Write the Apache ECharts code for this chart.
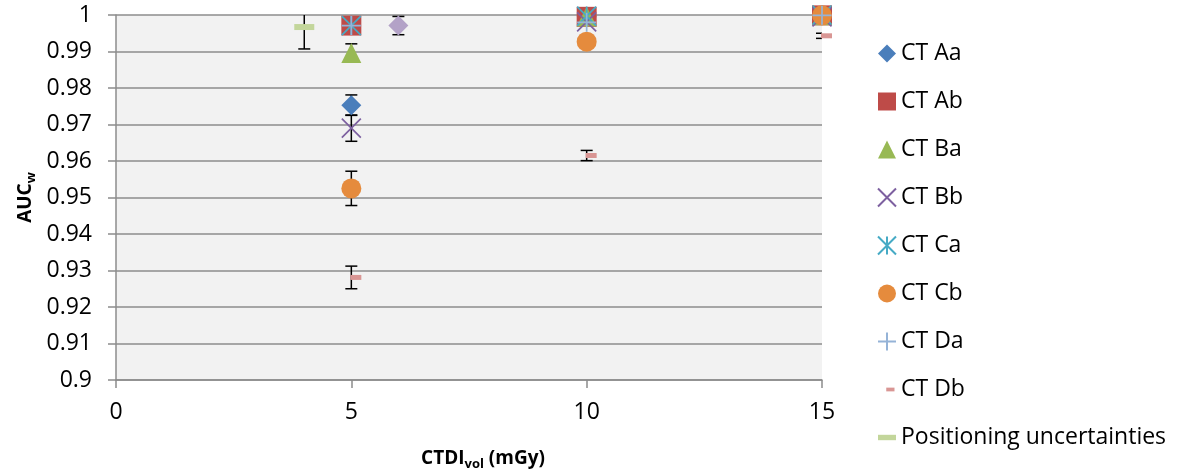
<!DOCTYPE html>
<html>
<head>
<meta charset="utf-8">
<script src="https://cdn.jsdelivr.net/npm/echarts@6/dist/echarts.min.js"></script>
<style>
  html, body { margin: 0; padding: 0; background: #fff; }
  #chart { width: 1181px; height: 475px; }
</style>
</head>
<body>
<div id="chart"></div>
<script>
// CTDIvol (mGy) on x, AUCw on y, err = half length of the error bar
const doses = [5, 10, 15];

const aaAuc = [0.9753, 0.9995, 0.9999];
const aaErr = [0.0028, 0.0004, 0.0002];

const abAuc = [0.9971, 0.9995, 0.9999];
const abErr = [0.0008, 0.0004, 0.0001];

const baAuc = [0.9896, 0.9996, 0.9999];
const baErr = [0.0025, 0.0003, 0.0001];

const bbAuc = [0.9690, 0.9981, 0.9995];
const bbErr = [0.0036, 0.0008, 0.0003];

const caAuc = [0.9971, 0.9997, 1.0];
const caErr = [0.0008, 0.0003, 0.0001];

const cbAuc = [0.9525, 0.9927, 0.9999];
const cbErr = [0.0047, 0.0008, 0.0001];

const daAuc = [0.9971, 0.9980, 0.9999];
const daErr = [0.0008, 0.0006, 0.0002];

const dbAuc = [0.9281, 0.9615, 0.9943];
const dbErr = [0.0031, 0.0014, 0.0007];

const posDose = [4];
const posAuc = [0.9967];
const posErr = [0.0060];

// extra point drawn in the plot but not listed in the legend
const extraDose = [6];
const extraAuc = [0.9971];
const extraErr = [0.0025];

const legendNames = ['CT Aa', 'CT Ab', 'CT Ba', 'CT Bb', 'CT Ca', 'CT Cb', 'CT Da', 'CT Db', 'Positioning uncertainties'];

const FONT = 'Open Sans';

const xPath = 'path://M0,0L20,20M20,0L0,20';
const starPath = 'path://M0,0L20,20M20,0L0,20M10,0L10,20';
const plusPath = 'path://M10,0L10,20M0,10L20,10';
const dbPath = 'path://M-2,0M22,20M9,7.5h11v5h-11z';
const posPath = 'path://M0,0M20,20M0,7h20v6h-20z';

function scatter(name, xs, ys, symbol, size, color, stroke) {
  return {
    name: name,
    type: 'scatter',
    z: 3,
    symbol: symbol,
    symbolSize: size,
    data: xs.map((x, i) => [x, ys[i]]),
    itemStyle: stroke
      ? { color: 'rgba(0,0,0,0)', borderColor: color, borderWidth: 1.7, opacity: 1 }
      : { color: color, opacity: 1 },
    emphasis: { disabled: true }
  };
}

function errorBars(xs, ys, es) {
  return {
    type: 'custom',
    z: 2,
    clip: true,
    silent: true,
    data: xs.map((x, i) => [x, ys[i], es[i]]),
    encode: { x: 0, y: 1 },
    renderItem: function (params, api) {
      const x = api.value(0), y = api.value(1), e = api.value(2);
      const top = api.coord([x, y + e]);
      const bot = api.coord([x, y - e]);
      const w = 6;
      const style = { stroke: '#000', lineWidth: 1.5 };
      return {
        type: 'group',
        children: [
          { type: 'line', shape: { x1: top[0], y1: top[1], x2: bot[0], y2: bot[1] }, style: style },
          { type: 'line', shape: { x1: top[0] - w, y1: top[1], x2: top[0] + w, y2: top[1] }, style: style },
          { type: 'line', shape: { x1: bot[0] - w, y1: bot[1], x2: bot[0] + w, y2: bot[1] }, style: style }
        ]
      };
    }
  };
}

const series = [
  scatter('CT Aa', doses, aaAuc, 'diamond', 20, '#4a7ebb'),
  errorBars(doses, aaAuc, aaErr),
  scatter('CT Ab', doses, abAuc, 'rect', 20, '#be4b48'),
  errorBars(doses, abAuc, abErr),
  scatter('CT Ba', doses, baAuc, 'triangle', 20, '#98b954'),
  errorBars(doses, baAuc, baErr),
  scatter('CT Bb', doses, bbAuc, xPath, 19, '#7d60a0', true),
  errorBars(doses, bbAuc, bbErr),
  scatter('CT Ca', doses, caAuc, starPath, 19, '#46aac5', true),
  errorBars(doses, caAuc, caErr),
  scatter('CT Cb', doses, cbAuc, 'circle', 20, '#e58b3d'),
  errorBars(doses, cbAuc, cbErr),
  scatter('CT Da', doses, daAuc, plusPath, 19, '#95b3d7', true),
  errorBars(doses, daAuc, daErr),
  scatter('CT Db', doses, dbAuc, dbPath, [24, 20], '#d99694'),
  errorBars(doses, dbAuc, dbErr),
  scatter('Positioning uncertainties', posDose, posAuc, posPath, 20, '#c3d69b'),
  errorBars(posDose, posAuc, posErr),
  scatter('Series10', extraDose, extraAuc, 'diamond', 20, '#b3a2c7'),
  errorBars(extraDose, extraAuc, extraErr)
];

const chart = echarts.init(document.getElementById('chart'));
chart.setOption({
  animation: false,
  textStyle: { fontFamily: FONT },
  grid: {
    left: 116, right: 359, top: 15, bottom: 95,
    show: true, backgroundColor: '#f2f2f2', borderWidth: 0,
    containLabel: false, outerBoundsMode: 'none'
  },
  legend: {
    data: legendNames,
    orient: 'vertical',
    left: 872,
    top: 37,
    itemWidth: 18,
    itemHeight: 18,
    itemGap: 25,
    selectedMode: false,
    textStyle: { fontFamily: FONT, fontSize: 23, color: '#000' }
  },
  xAxis: {
    type: 'value',
    min: 0, max: 15, interval: 5,
    name: '{a|CTDI}{b|vol}{a| (mGy)}',
    nameLocation: 'middle',
    nameGap: 67,
    nameMoveOverlap: false,
    nameTextStyle: {
      padding: [0, 0, 0, 28],
      rich: {
        a: { fontFamily: FONT, fontSize: 19, fontWeight: 'bold', color: '#000', lineHeight: 24 },
        b: { fontFamily: FONT, fontSize: 13, fontWeight: 'bold', color: '#000', lineHeight: 13, verticalAlign: 'bottom', padding: [14, 0, 0, 0] }
      }
    },
    axisLine: { show: true, lineStyle: { color: '#8c8c8c', width: 1.5 } },
    axisTick: { show: true, inside: false, length: 8, lineStyle: { color: '#8c8c8c', width: 1.5 } },
    axisLabel: { fontFamily: FONT, fontSize: 23, color: '#000', margin: 21 },
    splitLine: { show: false }
  },
  yAxis: {
    type: 'value',
    min: 0.9, max: 1, interval: 0.01,
    name: '{a|AUC}{b|w}',
    nameLocation: 'middle',
    nameRotate: 90,
    nameGap: 78,
    nameMoveOverlap: false,
    nameTextStyle: {
      rich: {
        a: { fontFamily: FONT, fontSize: 19, fontWeight: 'bold', color: '#000', lineHeight: 24 },
        b: { fontFamily: FONT, fontSize: 13, fontWeight: 'bold', color: '#000', lineHeight: 13, verticalAlign: 'bottom', padding: [14, 0, 0, 0] }
      }
    },
    axisLine: { show: true, lineStyle: { color: '#8c8c8c', width: 1.5 } },
    axisTick: { show: true, inside: false, length: 8, lineStyle: { color: '#8c8c8c', width: 1.5 } },
    axisLabel: { fontFamily: FONT, fontSize: 23, color: '#000', margin: 24 },
    splitLine: { show: true, lineStyle: { color: '#8c8c8c', width: 1.5 } }
  },
  series: series
});
</script>
</body>
</html>
